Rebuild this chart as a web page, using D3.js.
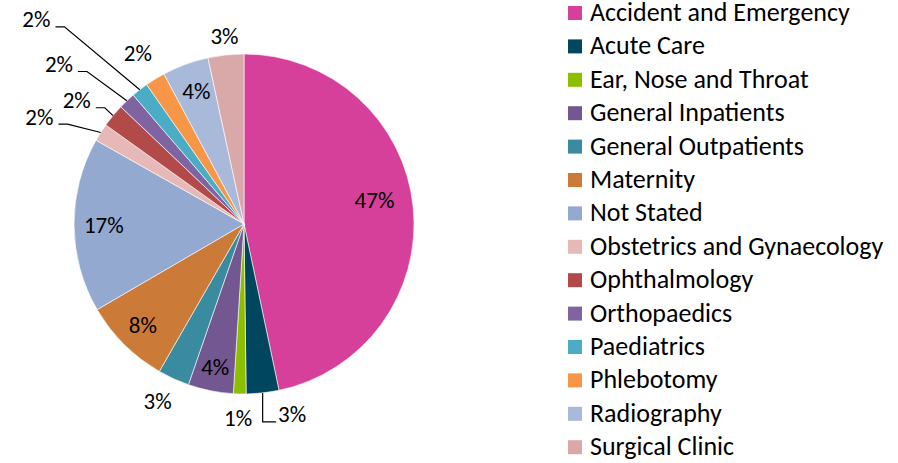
<!DOCTYPE html>
<html>
<head>
<meta charset="utf-8">
<script src="https://cdn.jsdelivr.net/npm/d3@7"></script>
<style>
  body { margin: 0; background: #fff; }
  svg { display: block; }
  text { font-family: Carlito, Calibri, Lato, sans-serif; fill: #000; }
</style>
</head>
<body>
<div id="chart"></div>
<script>
// share of referrals by department (%)
const categories = [
  "Accident and Emergency", "Acute Care", "Ear, Nose and Throat", "General Inpatients",
  "General Outpatients", "Maternity", "Not Stated", "Obstetrics and Gynaecology",
  "Ophthalmology", "Orthopaedics", "Paediatrics", "Phlebotomy", "Radiography", "Surgical Clinic"
];
const shares = [46.7, 3.1, 1.2, 4.3, 3.0, 8.3, 16.6, 1.7, 2.2, 1.6, 1.6, 1.9, 4.4, 3.4];

const colors = [
  "#d6409a", "#00465e", "#8cbf00", "#735790", "#3a8ba0", "#cc7a38", "#94a9d0",
  "#e6b9b8", "#b34a4a", "#8064a2", "#4bacc6", "#f79646", "#a9b9da", "#d9a9a9"
];

// where each percentage label sits: radius factor and angle nudge (deg) from the slice middle
const labelLayout = [
  { kind: "in", rr: 0.78, da: -4.4 },
  { kind: "below", rr: 1.155, da: -7.9 },
  { kind: "out", rr: 1.14, da: 0.3 },
  { kind: "in", rr: 0.86, da: 0 },
  { kind: "out", rr: 1.156, da: 1.6 },
  { kind: "in", rr: 0.84, da: 0.3 },
  { kind: "in", rr: 0.825, da: 0 },
  { kind: "left", rr: 1.359, da: -4.9 },
  { kind: "left", rr: 1.224, da: -3.1 },
  { kind: "left", rr: 1.439, da: -5.6 },
  { kind: "left", rr: 1.715, da: -7.6 },
  { kind: "out", rr: 1.182, da: -0.4 },
  { kind: "in", rr: 0.834, da: 0.5 },
  { kind: "out", rr: 1.112, da: 0.2 }
];

const W = 898, H = 463;
const cx = 244, cy = 224, radius = 170;

const svg = d3.select("#chart").append("svg")
  .attr("width", W)
  .attr("height", H)
  .attr("viewBox", `0 0 ${W} ${H}`);

const color = d3.scaleOrdinal().domain(categories).range(colors);
const total = d3.sum(shares);
const pct = d3.format(".0%");

const data = categories.map((c, i) => ({ name: c, value: shares[i], layout: labelLayout[i] }));

const pie = d3.pie().value(d => d.value).sort(null);
const arcs = pie(data);
const arc = d3.arc().innerRadius(0).outerRadius(radius);

const g = svg.append("g").attr("transform", `translate(${cx},${cy})`);

g.selectAll("path.slice")
  .data(arcs)
  .enter().append("path")
  .attr("class", "slice")
  .attr("d", arc)
  .attr("fill", d => color(d.data.name))
  .attr("stroke", "#fff")
  .attr("stroke-width", 0.6);

function polar(a, r) {
  return [r * Math.sin(a), -r * Math.cos(a)];
}

const labels = g.append("g").attr("class", "labels");

arcs.forEach(d => {
  const lay = d.data.layout;
  const mid = (d.startAngle + d.endAngle) / 2;
  const [lx, ly] = polar(mid + lay.da * Math.PI / 180, radius * lay.rr);

  const t = labels.append("text")
    .attr("x", lx)
    .attr("y", ly)
    .attr("dy", "0.35em")
    .attr("text-anchor", "middle")
    .style("font-size", "23px")
    .text(pct(d.data.value / total));

  const w = t.node().getComputedTextLength();
  const edge = polar(mid, radius);
  const lineY = ly + 7.5;

  if (lay.kind === "left") {
    const right = lx + w / 2;
    labels.append("polyline")
      .attr("points", [[right + 5, lineY], [right + 14, lineY], edge].map(p => p.join(",")).join(" "))
      .attr("fill", "none")
      .attr("stroke", "#000")
      .attr("stroke-width", 1.2);
  } else if (lay.kind === "below") {
    const left = lx - w / 2;
    labels.append("polyline")
      .attr("points", [edge, [edge[0], lineY], [left - 2, lineY]].map(p => p.join(",")).join(" "))
      .attr("fill", "none")
      .attr("stroke", "#000")
      .attr("stroke-width", 1.2);
  }
});

// legend
const legend = svg.append("g")
  .attr("class", "legend")
  .attr("transform", "translate(568,6)");

const legendItems = legend.selectAll(".legend-item")
  .data(categories)
  .enter().append("g")
  .attr("class", "legend-item")
  .attr("transform", (d, i) => `translate(0, ${i * 33.4})`);

legendItems.append("rect")
  .attr("width", 14)
  .attr("height", 14)
  .attr("fill", d => color(d));

legendItems.append("text")
  .attr("x", 22)
  .attr("y", 15)
  .style("font-size", "26px")
  .text(d => d);
</script>
</body>
</html>
